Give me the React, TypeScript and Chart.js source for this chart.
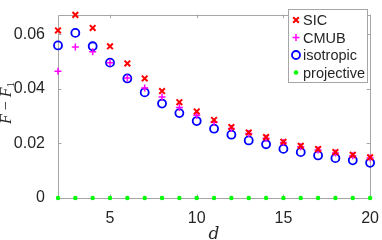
import React, { useEffect, useRef } from "react";
import { Chart, registerables } from "chart.js";

Chart.register(...registerables);

const dValues = [2, 3, 4, 5, 6, 7, 8, 9, 10, 11, 12, 13, 14, 15, 16, 17, 18, 19, 20];
const sicValues = [0.0614, 0.0671, 0.0623, 0.0556, 0.0493, 0.0438, 0.0392, 0.0351, 0.0317, 0.0286, 0.0260, 0.0240, 0.0223, 0.0206, 0.0191, 0.0179, 0.0168, 0.0158, 0.0149];
const cmubValues = [0.0464, 0.0553, 0.0536, 0.0496, 0.0440, 0.0403, 0.0370, 0.0332, 0.0303, 0.0278, 0.0255, 0.0236, 0.0219, 0.0203, 0.0188, 0.0176, 0.0165, 0.0155, 0.0147];
const isoValues = [0.0559, 0.0605, 0.0556, 0.0496, 0.0438, 0.0387, 0.0346, 0.0311, 0.0282, 0.0254, 0.0232, 0.0211, 0.0197, 0.0180, 0.0168, 0.0156, 0.0146, 0.0138, 0.0129];
const projValues = [0, 0, 0, 0, 0, 0, 0, 0, 0, 0, 0, 0, 0, 0, 0, 0, 0, 0, 0];
const xTicks = [5, 10, 15, 20];
const yTicks = [0, 0.02, 0.04, 0.06];
const yTickLabels = ["0", "0.02", "0.04", "0.06"];

const AXIS_COLOR = "#a6a6a6";
const TEXT_COLOR = "#262626";

function drawMarker(ctx: CanvasRenderingContext2D, style: string, x: number, y: number, r: number, color: string, lw: number) {
  ctx.save();
  ctx.strokeStyle = color;
  ctx.fillStyle = color;
  ctx.lineWidth = lw;
  ctx.beginPath();
  if (style === "crossRot") {
    const o = r * 0.7071;
    ctx.moveTo(x - o, y - o); ctx.lineTo(x + o, y + o);
    ctx.moveTo(x + o, y - o); ctx.lineTo(x - o, y + o);
    ctx.stroke();
  } else if (style === "cross") {
    ctx.moveTo(x - r, y); ctx.lineTo(x + r, y);
    ctx.moveTo(x, y - r); ctx.lineTo(x, y + r);
    ctx.stroke();
  } else if (style === "ring") {
    ctx.arc(x, y, r, 0, Math.PI * 2);
    ctx.stroke();
  } else {
    ctx.arc(x, y, r, 0, Math.PI * 2);
    ctx.fill();
  }
  ctx.restore();
}

const framePlugin = {
  id: "frame",
  beforeDatasetsDraw(chart: any) {
    const { ctx, chartArea: a, scales } = chart;
    ctx.save();
    ctx.strokeStyle = AXIS_COLOR;
    ctx.lineWidth = 1;
    ctx.beginPath();
    ctx.rect(Math.round(a.left) + 0.5, Math.round(a.top) + 0.5, Math.round(a.right - a.left), Math.round(a.bottom - a.top));
    ctx.stroke();
    const tl = 3.5;
    ctx.beginPath();
    for (const v of xTicks) {
      const px = Math.round(scales.x.getPixelForValue(v)) + 0.5;
      ctx.moveTo(px, a.bottom); ctx.lineTo(px, a.bottom - tl);
      ctx.moveTo(px, a.top); ctx.lineTo(px, a.top + tl);
    }
    for (const v of yTicks) {
      const py = Math.round(scales.y.getPixelForValue(v)) + 0.5;
      ctx.moveTo(a.left, py); ctx.lineTo(a.left + tl, py);
      ctx.moveTo(a.right, py); ctx.lineTo(a.right - tl, py);
    }
    ctx.stroke();
    ctx.restore();

    // axis titles
    ctx.save();
    ctx.fillStyle = TEXT_COLOR;
    ctx.font = "italic 17px 'DejaVu Serif', 'Liberation Serif', serif";
    ctx.textAlign = "center";
    ctx.textBaseline = "alphabetic";
    ctx.fillText("d", (a.left + a.right) / 2, 239);
    ctx.restore();

    ctx.save();
    ctx.translate(11, 103);
    ctx.rotate(-Math.PI / 2);
    ctx.fillStyle = TEXT_COLOR;
    const italic = "italic 16px 'Liberation Serif', serif";
    const normal = "16px 'Liberation Serif', serif";
    const small = "11px 'Liberation Serif', serif";
    const parts: [string, string, number][] = [["F", italic, 0], [" \u2212 ", normal, 0], ["F", italic, 0], ["1", small, 3]];
    let total = 0;
    for (const [t, f] of parts) { ctx.font = f; total += ctx.measureText(t).width; }
    let x = -total / 2;
    ctx.textBaseline = "alphabetic";
    ctx.textAlign = "left";
    for (const [t, f, dy] of parts) {
      ctx.font = f;
      ctx.fillText(t, x, dy);
      x += ctx.measureText(t).width;
    }
    ctx.restore();
  },
  afterDatasetsDraw(chart: any) {
    const { ctx } = chart;
    const lx = 288.5, ly = 9.5, lw = 79, lh = 73;
    ctx.save();
    ctx.fillStyle = "#ffffff";
    ctx.fillRect(lx, ly, lw, lh);
    ctx.strokeStyle = AXIS_COLOR;
    ctx.lineWidth = 1;
    ctx.strokeRect(lx, ly, lw, lh);
    const rows = [20, 37.5, 55, 72.5];
    chart.data.datasets.forEach((ds: any, i: number) => {
      const y = rows[i];
      drawMarker(ctx, ds.legendStyle, 296, y, ds.legendR, ds.borderColor, ds.borderWidth);
      ctx.fillStyle = TEXT_COLOR;
      ctx.font = "14.5px 'Liberation Sans', Arial, sans-serif";
      ctx.textAlign = "left";
      ctx.textBaseline = "middle";
      ctx.fillText(ds.label, 303, y + 1);
    });
    ctx.restore();
  },
};

export default function App() {
  const ref = useRef<HTMLCanvasElement | null>(null);
  useEffect(() => {
    document.body.style.margin = "0";
    const mk = (arr: number[]) => dValues.map((d, i) => ({ x: d, y: arr[i] }));
    const chart = new Chart(ref.current as HTMLCanvasElement, {
      type: "scatter",
      data: {
        datasets: [
          { label: "SIC", data: mk(sicValues), pointStyle: "crossRot", pointRadius: 4, borderColor: "#ff0000", backgroundColor: "#ff0000", borderWidth: 2, legendStyle: "crossRot", legendR: 4 } as any,
          { label: "CMUB", data: mk(cmubValues), pointStyle: "cross", pointRadius: 3.5, borderColor: "#ff00ff", backgroundColor: "#ff00ff", borderWidth: 1.5, legendStyle: "cross", legendR: 3.5 } as any,
          { label: "isotropic", data: mk(isoValues), pointStyle: "circle", pointRadius: 4, borderColor: "#0000ff", backgroundColor: "rgba(0,0,0,0)", borderWidth: 1.8, legendStyle: "ring", legendR: 4 } as any,
          { label: "projective", data: mk(projValues), pointStyle: "circle", pointRadius: 2.2, borderColor: "#00ff00", backgroundColor: "#00ff00", borderWidth: 0, legendStyle: "dot", legendR: 2.2 } as any,
        ],
      },
      options: {
        animation: false,
        responsive: false,
        maintainAspectRatio: false,
        clip: false as any,
        layout: { padding: { top: 3, right: 10, left: 0, bottom: 0 } },
        plugins: { legend: { display: false }, tooltip: { enabled: false } },
        scales: {
          x: {
            type: "linear",
            min: 2,
            max: 20,
            grid: { display: false },
            border: { display: false },
            afterBuildTicks: (s: any) => { s.ticks = xTicks.map((v) => ({ value: v })); },
            afterFit: (s: any) => { s.height = 42; },
            ticks: { color: TEXT_COLOR, font: { family: "'Liberation Sans', Arial, sans-serif", size: 16 }, padding: 3, maxRotation: 0, autoSkip: false, callback: (v: any) => String(v) },
          },
          y: {
            type: "linear",
            min: 0,
            max: 0.0672,
            grid: { display: false },
            border: { display: false },
            afterBuildTicks: (s: any) => { s.ticks = yTicks.map((v) => ({ value: v })); },
            afterFit: (s: any) => { s.width = 58; },
            ticks: { color: TEXT_COLOR, font: { family: "'Liberation Sans', Arial, sans-serif", size: 16 }, padding: 5, autoSkip: false, callback: (v: any) => { const i = yTicks.indexOf(v); return i >= 0 ? yTickLabels[i] : ""; } },
          },
        },
      },
      plugins: [framePlugin],
    });
    return () => chart.destroy();
  }, []);
  return (
    <div style={{ position: "fixed", left: 0, top: 0, width: 382, height: 240, background: "#fff" }}>
      <canvas ref={ref} width={382} height={240} style={{ width: 382, height: 240, display: "block" }} />
    </div>
  );
}
